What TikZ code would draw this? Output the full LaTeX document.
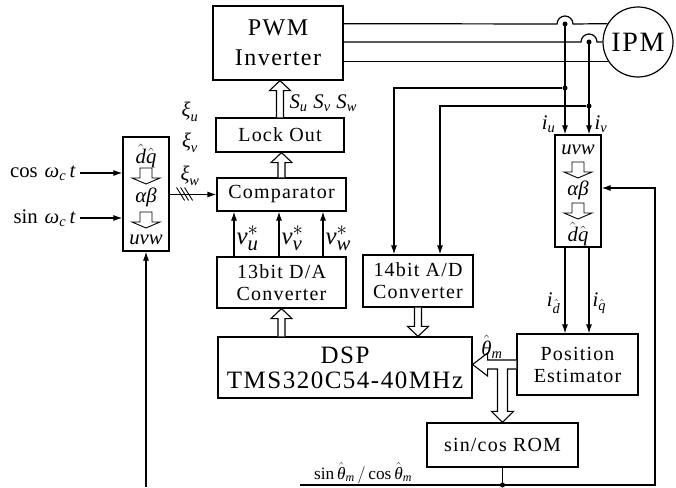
\documentclass[tikz,border=0pt]{standalone}
\usepackage{fontspec}
\setmainfont{Liberation Serif}
\usetikzlibrary{arrows.meta,calc}
\newcommand\boxfont{\fontsize{20}{22}\selectfont\addfontfeatures{LetterSpace=6}}
\newcommand\pwmfont{\fontsize{24}{30}\selectfont\addfontfeatures{LetterSpace=6}}
\newcommand\dspfont{\fontsize{25}{25}\selectfont\addfontfeatures{LetterSpace=6}}
\newcommand\ipmfont{\fontsize{28}{30}\selectfont\addfontfeatures{LetterSpace=6}}
\newcommand\txi[1]{\mbox{\itshape #1}}
\newcommand\mi[1]{\mathit{#1}}
\newcommand\HAup[2]{\path[hollow] let \p1=(#1), \p2=(#2) in (\x1-3.5pt,\y1) -- (\x1-3.5pt,\y2-10pt) -- (\x1-10.5pt,\y2-10pt) -- (\x1,\y2) -- (\x1+10.5pt,\y2-10pt) -- (\x1+3.5pt,\y2-10pt) -- (\x1+3.5pt,\y1);}
\newcommand\HAdown[2]{\path[hollow] let \p1=(#1), \p2=(#2) in (\x1-3.5pt,\y1) -- (\x1-3.5pt,\y2+10pt) -- (\x1-10.5pt,\y2+10pt) -- (\x1,\y2) -- (\x1+10.5pt,\y2+10pt) -- (\x1+3.5pt,\y2+10pt) -- (\x1+3.5pt,\y1);}
\newcommand\HAsmall[1]{\path[hollow, line width=0.9pt] let \p1=(#1) in (\x1-6pt,\y1) -- (\x1-6pt,\y1-10pt) -- (\x1-14pt,\y1-10pt) -- (\x1,\y1-16pt) -- (\x1+14pt,\y1-10pt) -- (\x1+6pt,\y1-10pt) -- (\x1+6pt,\y1) -- cycle;}
\begin{document}
\begin{tikzpicture}[x=1pt,y=-1pt, line width=1.2pt,
  box/.style={draw, inner sep=0pt, align=center, font=\boxfont},
  arr/.style={-{Latex[length=9pt,width=6pt]}},
  hollow/.style={draw, fill=white, line width=1.1pt, line join=miter},
  dot/.style={circle, fill, inner sep=0pt, minimum size=5pt},
  lab/.style={inner sep=0pt, font=\fontsize{20.74}{24}\selectfont},
  biglab/.style={inner sep=0pt, font=\fontsize{24.88}{26}\selectfont},
  intext/.style={inner sep=0pt, font=\fontsize{20.74}{24}\selectfont}]
\useasboundingbox (0,0) rectangle (676,487);

% boxes
\node[box, minimum width=130pt, minimum height=74pt, font=\pwmfont] (pwm) at (278,43) {PWM\\Inverter};
\node[box, minimum width=128pt, minimum height=34pt] (lock) at (280,135) {Lock Out};
\node[box, minimum width=129pt, minimum height=33pt] (comp) at (281.5,194.5) {Comparator};
\node[box, minimum width=129pt, minimum height=51pt] (da) at (281.5,282.5) {13bit D/A\\Converter};
\node[box, minimum width=110pt, minimum height=52pt] (ad) at (418,281) {14bit A/D\\Converter};
\node[box, minimum width=254pt, minimum height=61pt, font=\dspfont] (dsp) at (345,367.5) {DSP\\TMS320C54-40MHz};
\node[box, minimum width=121pt, minimum height=61pt] (pe) at (577.5,364.5) {Position\\Estimator};
\node[box, minimum width=151pt, minimum height=44pt] (rom) at (502.5,445) {sin/cos ROM};
\node[draw, minimum width=46pt, minimum height=114pt, inner sep=0pt] (lbox) at (146,194) {};
\node[draw, minimum width=46pt, minimum height=112pt, inner sep=0pt] (rbox) at (578,191) {};
\node[draw, circle, minimum size=70pt, inner sep=0pt, font=\ipmfont] (ipm) at (638,42) {IPM};

% contents of transform boxes
\node[intext] (l1) at ([yshift=38pt]lbox.center) {$\hat{\mi{d}}\hat{\mi{q}}$};
\node[intext] (l2) at ([yshift=-3pt]lbox.center) {\txi{αβ}};
\node[intext] (l3) at ([yshift=-46pt]lbox.center) {\txi{uvw}};
\HAsmall{[yshift=26pt]lbox.center}
\HAsmall{[yshift=-18pt]lbox.center}
\node[intext] (r1) at ([yshift=41pt]rbox.center) {\txi{uvw}};
\node[intext] (r2) at ([yshift=1pt]rbox.center) {\txi{αβ}};
\node[intext] (r3) at ([yshift=-43pt]rbox.center) {$\hat{\mi{d}}\hat{\mi{q}}$};
\HAsmall{[yshift=29pt]rbox.center}
\HAsmall{[yshift=-12pt]rbox.center}

% hollow arrows
\HAup{lock.north}{pwm.south}
\HAup{comp.north}{lock.south}
\HAup{da.south |- dsp.north}{da.south}
\HAdown{ad.south}{ad.south |- dsp.north}
\path[hollow] let \p1=(pe.west), \p2=(dsp.east), \p3=(rom.north) in
 (\x1,\y1+4.5pt) -- (\x2+15pt,\y1+4.5pt) -- (\x2+15pt,\y1+11.5pt) -- (\x2,\y1) -- (\x2+15pt,\y1-11.5pt) -- (\x2+15pt,\y1-4.5pt) -- (\x3-5pt,\y1-4.5pt) -- (\x3-5pt,\y3+11pt) -- (\x3-11pt,\y3+11pt) -- (\x3,\y3) -- (\x3+11pt,\y3+11pt) -- (\x3+5pt,\y3+11pt) -- (\x3+5pt,\y1-4.5pt) -- (\x1,\y1-4.5pt);

% three-phase lines
\coordinate (ju) at (565,24);
\coordinate (jv) at (589,42);
\coordinate (tu) at (565,88);
\coordinate (tv) at (589,106);
\draw (pwm.east |- ipm.149) -- ([xshift=-8pt]ju) arc[start angle=180,end angle=0,radius=8pt] -- (ipm.149);
\draw (pwm.east |- ipm.west) -- ([xshift=-8pt]jv) arc[start angle=180,end angle=0,radius=8pt] -- (ipm.west);
\draw (pwm.east |- ipm.213) -- (ipm.213);
\draw[arr] (ju) -- (ju |- rbox.north);
\draw[arr] (jv) -- (jv |- rbox.north);
\node[dot] (dju) at (ju) {};
\node[dot] (djv) at (jv) {};
\node[dot] (dtu) at (tu) {};
\node[dot] (dtv) at (tv) {};
\coordinate (adu) at ([xshift=-24pt]ad.north);
\coordinate (adv) at ([xshift=22pt]ad.north);
\draw[arr] (dtu) -| (adu);
\draw[arr] (dtv) -| (adv);
\draw[arr] (ju |- rbox.south) -- (ju |- pe.north);
\draw[arr] (jv |- rbox.south) -- (jv |- pe.north);

% feedback
\coordinate (bl) at (300,485);
\coordinate (fb) at (655,485);
\coordinate (fbin) at ([yshift=3pt]rbox.east);
\draw[arr] (bl) -- (fb) |- (fbin);
\draw (rom.south) -- (rom.south |- bl);
\node[dot] (drom) at (rom.south |- bl) {};
\coordinate (lb) at (146,487);
\draw[arr] (lb) -- (lbox.south);

% D/A to comparator
\foreach \s in {-47.5,-2.5,41.5}
  \draw[arr] ([xshift=\s pt]da.north) -- ([xshift=\s pt]comp.south);

% inputs
\node[lab, anchor=east, inner xsep=4pt] (cosl) at (80,173) {$\cos\,\txi{ω}_{\mi{c}}\,\mi{t}$};
\node[lab, anchor=east, inner xsep=4pt] (sinl) at (80,218) {$\sin\,\txi{ω}_{\mi{c}}\,\mi{t}$};
\draw[arr] (cosl.east) -- (lbox.west |- cosl.east);
\draw[arr] (sinl.east) -- (lbox.west |- sinl.east);
\draw[arr] (lbox.east |- comp.west) -- (comp.west);
\foreach \k in {0,4,8}
  \draw[line width=0.9pt] ($(lbox.east |- comp.west)+(7+\k,-7)$) -- ++(8,13);

% labels
\node[lab] (xu) at (190,112) {$\txi{ξ}_{\mi{u}}$};
\node[lab] (xv) at (190,143) {$\txi{ξ}_{\mi{v}}$};
\node[lab] (xw) at (190,176) {$\txi{ξ}_{\mi{w}}$};
\node[lab, anchor=west] (sl) at (289,103) {$\mi{S}_{\mi{u}}\;\mi{S}_{\mi{v}}\;\mi{S}_{\mi{w}}$};
\node[biglab, anchor=west] (vu) at (236,238) {$\mi{v}_{\mi{u}}^{*}$};
\node[biglab, anchor=west] (vv) at (281,238) {$\mi{v}_{\mi{v}}^{*}$};
\node[biglab, anchor=west] (vw) at (325,238) {$\mi{v}_{\mi{w}}^{*}$};
\node[lab, anchor=east] (iu) at (556,124) {$\mi{i}_{\mi{u}}$};
\node[lab, anchor=west] (iv) at (594,124) {$\mi{i}_{\mi{v}}$};
\node[lab, anchor=east] (id) at (561,303) {$\mi{i}_{\hat{\mi{d}}}$};
\node[lab, anchor=west] (iq) at (592,303) {$\mi{i}_{\hat{\mi{q}}}$};
\node[lab] (th) at (492,347) {$\hat{\txi{θ}}_{\mi{m}}$};
\node[lab, font=\fontsize{17.28}{18}\selectfont] (scl) at (363,473) {$\sin\hat{\txi{θ}}_{\mi{m}}\,/\cos\hat{\txi{θ}}_{\mi{m}}$};
\end{tikzpicture}
\end{document}
